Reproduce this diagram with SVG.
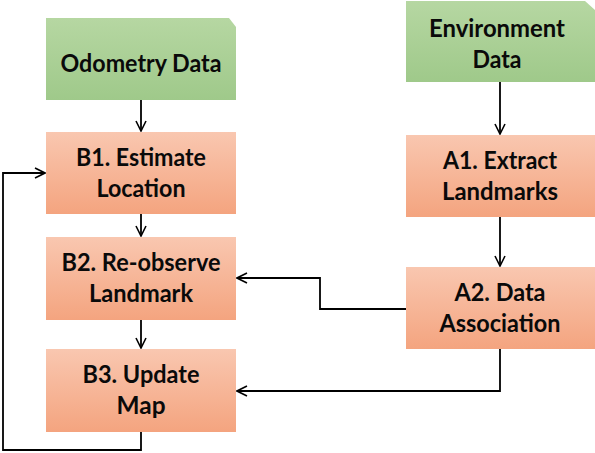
<svg xmlns="http://www.w3.org/2000/svg" width="595" height="453" viewBox="0 0 595 453">
<defs>
<linearGradient id="gOr" x1="0" y1="0" x2="0" y2="1">
<stop offset="0" stop-color="#f9c7b0"/>
<stop offset="1" stop-color="#f4a47f"/>
</linearGradient>
<linearGradient id="gGr" x1="0" y1="0" x2="0" y2="1">
<stop offset="0" stop-color="#b6d7a2"/>
<stop offset="1" stop-color="#9fc98a"/>
</linearGradient>
<marker id="arr" viewBox="0 0 12 12" refX="11" refY="6" markerWidth="12" markerHeight="12" markerUnits="userSpaceOnUse" orient="auto">
<path d="M1,1 L11,6 L1,11" fill="none" stroke="#000" stroke-width="1.6"/>
</marker>
<style>
.t{font-family:Lato,"Open Sans","Liberation Sans",sans-serif;font-weight:700;font-size:25px;fill:#0a0a0a;text-anchor:middle}
.c{fill:none;stroke:#000;stroke-width:1.8}
</style>
</defs>
<g id="connectors">
<path class="c" d="M141,100 V131" marker-end="url(#arr)"/>
<path class="c" d="M500,82 V134" marker-end="url(#arr)"/>
<path class="c" d="M141,214 V236" marker-end="url(#arr)"/>
<path class="c" d="M141,320 V348" marker-end="url(#arr)"/>
<path class="c" d="M500,217 V266" marker-end="url(#arr)"/>
<path class="c" d="M406,309 H320 V278 H237" marker-end="url(#arr)"/>
<path class="c" d="M500,349 V391 H237" marker-end="url(#arr)"/>
<path class="c" d="M141,432 V450 H3 V173 H45" marker-end="url(#arr)"/>
</g>
<g id="odometry">
<path d="M46,18 H229 L236,27 V100 H46 Z" fill="url(#gGr)"/>
<text class="t" x="141" y="72" textLength="161" lengthAdjust="spacingAndGlyphs">Odometry Data</text>
</g>
<g id="environment">
<path d="M406,1 H585 L595,10 V82 H406 Z" fill="url(#gGr)"/>
<text class="t" x="497" y="37" textLength="136" lengthAdjust="spacingAndGlyphs">Environment</text>
<text class="t" x="497" y="68" textLength="49" lengthAdjust="spacingAndGlyphs">Data</text>
</g>
<g id="b1">
<rect x="46" y="132" width="190" height="82" fill="url(#gOr)"/>
<text class="t" x="141" y="166" textLength="130" lengthAdjust="spacingAndGlyphs">B1. Estimate</text>
<text class="t" x="141" y="197" textLength="89" lengthAdjust="spacingAndGlyphs">Location</text>
</g>
<g id="b2">
<rect x="46" y="237" width="190" height="83" fill="url(#gOr)"/>
<text class="t" x="141" y="271" textLength="159" lengthAdjust="spacingAndGlyphs">B2. Re-observe</text>
<text class="t" x="141" y="302" textLength="104" lengthAdjust="spacingAndGlyphs">Landmark</text>
</g>
<g id="b3">
<rect x="46" y="349" width="190" height="83" fill="url(#gOr)"/>
<text class="t" x="141" y="383" textLength="117" lengthAdjust="spacingAndGlyphs">B3. Update</text>
<text class="t" x="141" y="414" textLength="49" lengthAdjust="spacingAndGlyphs">Map</text>
</g>
<g id="a1">
<rect x="406" y="135" width="189" height="82" fill="url(#gOr)"/>
<text class="t" x="500" y="169" textLength="114" lengthAdjust="spacingAndGlyphs">A1. Extract</text>
<text class="t" x="500" y="200" textLength="116" lengthAdjust="spacingAndGlyphs">Landmarks</text>
</g>
<g id="a2">
<rect x="406" y="267" width="189" height="82" fill="url(#gOr)"/>
<text class="t" x="500" y="301" textLength="91" lengthAdjust="spacingAndGlyphs">A2. Data</text>
<text class="t" x="500" y="332" textLength="121" lengthAdjust="spacingAndGlyphs">Association</text>
</g>
</svg>
